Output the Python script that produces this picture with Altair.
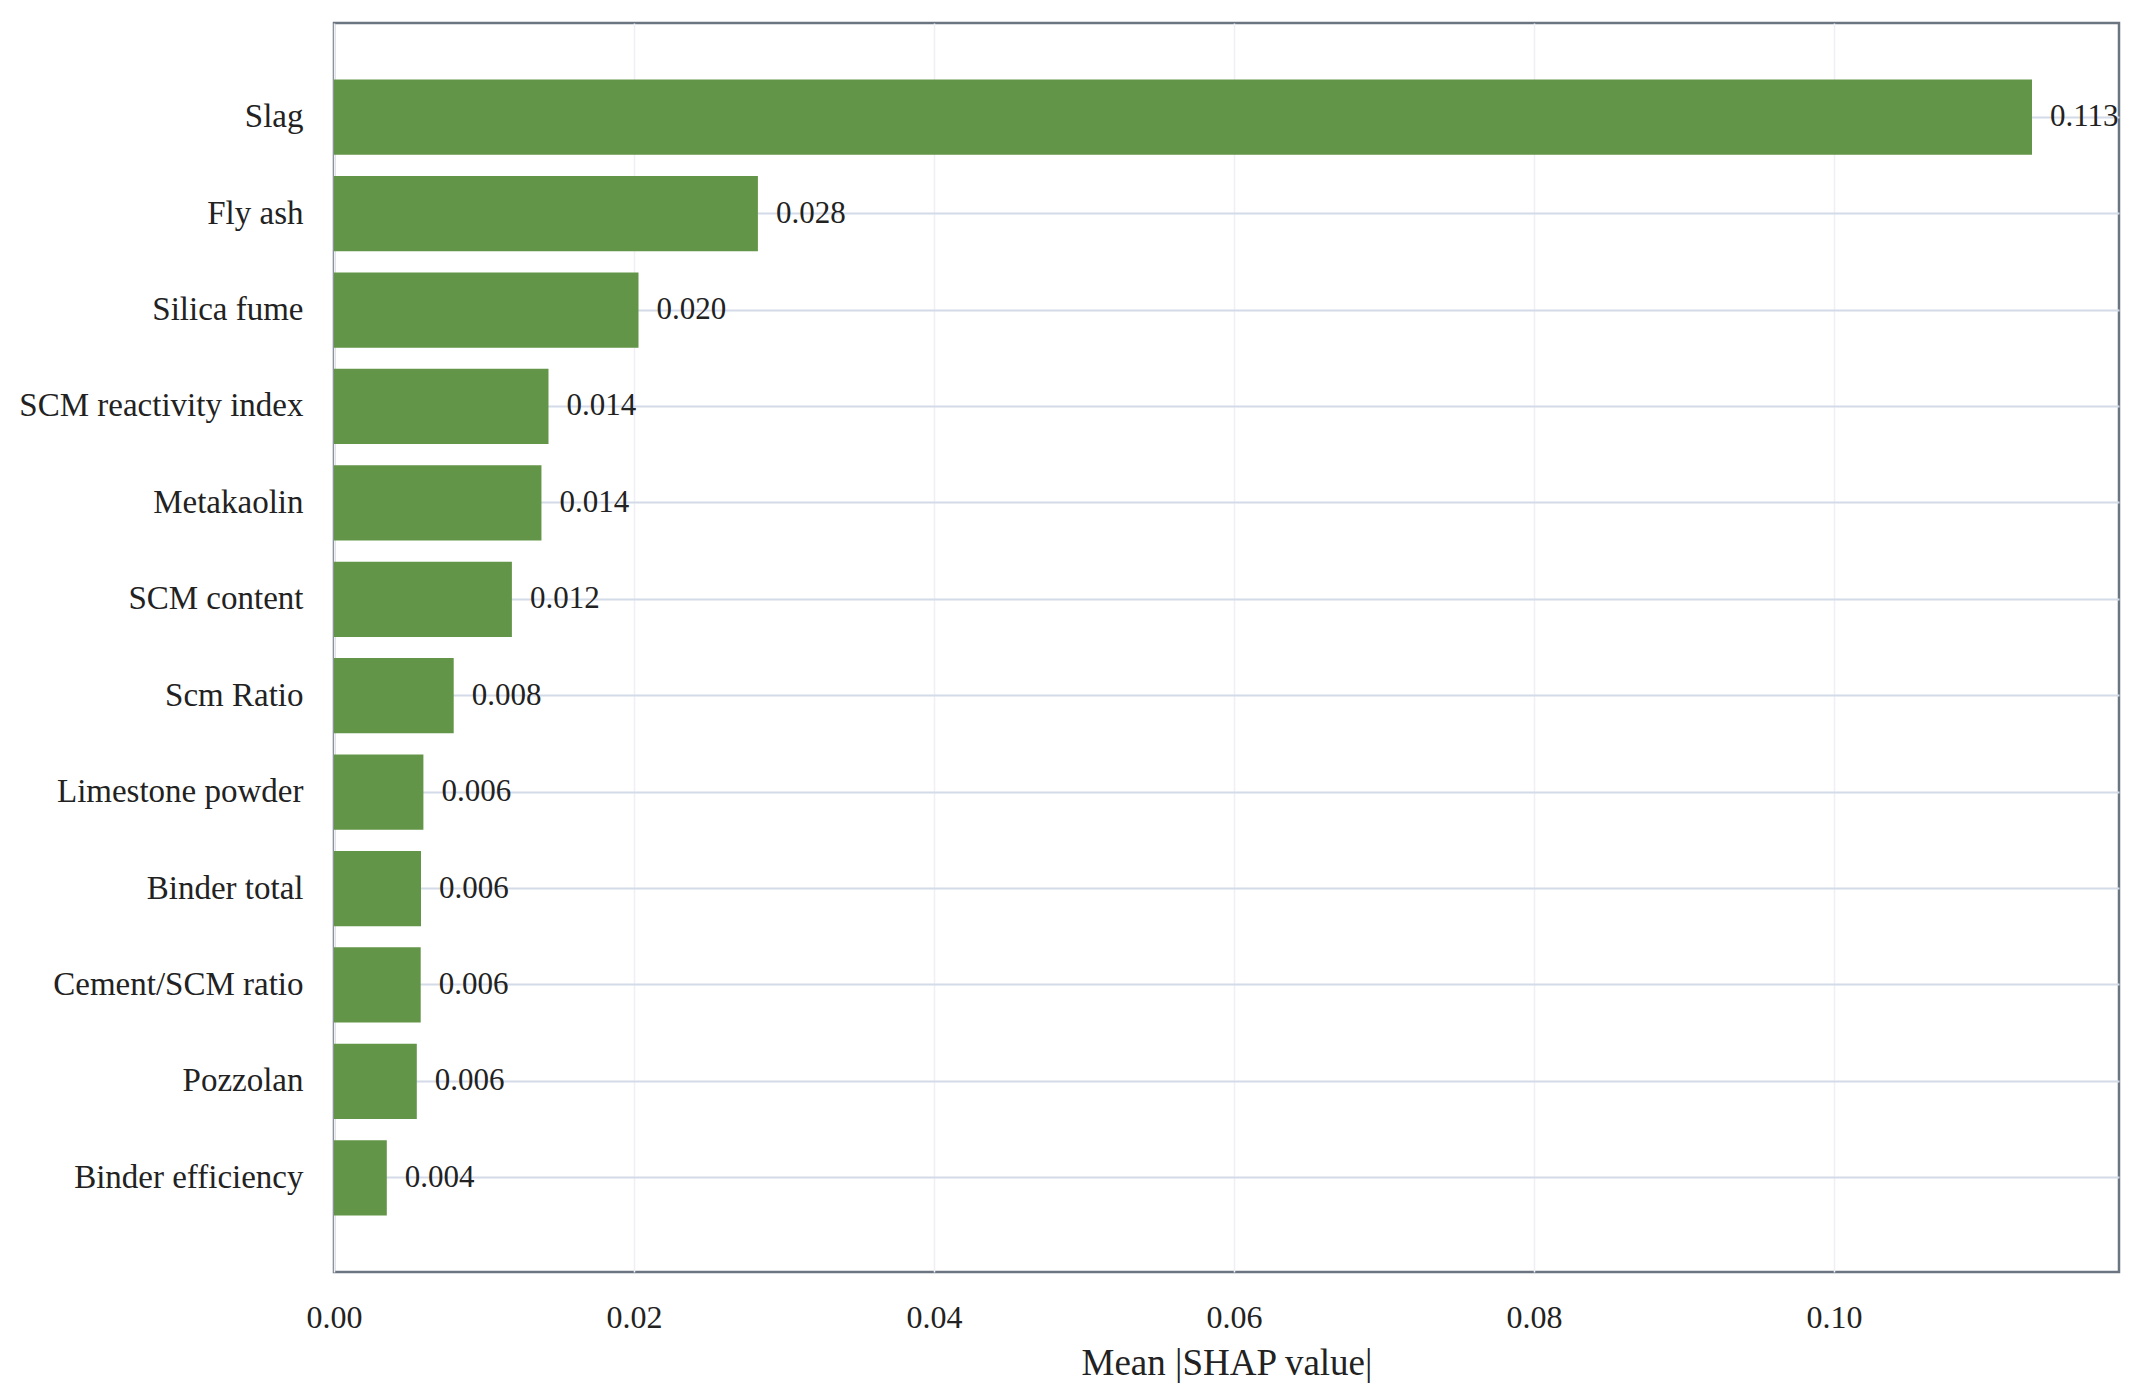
import altair as alt
import pandas as pd

features = [
    "Slag", "Fly ash", "Silica fume", "SCM reactivity index", "Metakaolin",
    "SCM content", "Scm Ratio", "Limestone powder", "Binder total",
    "Cement/SCM ratio", "Pozzolan", "Binder efficiency",
]
mean_abs_shap = [
    0.1132, 0.02826, 0.0203, 0.0143, 0.01383,
    0.01186, 0.00798, 0.00596, 0.0058,
    0.00578, 0.00552, 0.00352,
]
x_ticks = [0.0, 0.02, 0.04, 0.06, 0.08, 0.10]

df = pd.DataFrame({"feature": features, "value": mean_abs_shap})

FONT = "Liberation Serif"

y_enc = alt.Y(
    "feature:N",
    sort=features,
    title=None,
    scale=alt.Scale(paddingInner=0.22, paddingOuter=0.587),
    axis=alt.Axis(
        grid=True, gridColor="#d4dbe8", gridWidth=2,
        domain=False, ticks=False, labelPadding=31,
        labelFont=FONT, labelFontSize=33, labelColor="#222222",
        labelLimit=600,
    ),
)
x_enc = alt.X(
    "value:Q",
    title="Mean |SHAP value|",
    scale=alt.Scale(domain=[0, 0.119], nice=False, zero=True),
    axis=alt.Axis(
        values=x_ticks, format=".2f", labelFlush=False,
        grid=True, gridColor="#eef0f5", gridWidth=1.5,
        domain=False, ticks=False, labelPadding=30,
        labelFont=FONT, labelFontSize=32, labelColor="#222222",
        titleFont=FONT, titleFontSize=37, titleFontWeight="normal",
        titleColor="#222222", titlePadding=12,
    ),
)

bars = alt.Chart(df).mark_bar(color="#629547").encode(y=y_enc, x=x_enc)

labels = alt.Chart(df).mark_text(
    align="left", baseline="middle", dx=18,
    font=FONT, fontSize=31, color="#222222",
).encode(
    y=alt.Y("feature:N", sort=features),
    x=alt.X("value:Q"),
    text=alt.Text("value:Q", format=".3f"),
)

chart = (
    alt.layer(bars, labels)
    .properties(
        width=1785, height=1249,
        autosize=alt.AutoSizeParams(type="none"),
        padding={"left": 326, "top": 15, "right": 14, "bottom": 120},
        background="white",
    )
    .configure_view(stroke="#6b7581", strokeWidth=2.5)
)

chart.save("out.html", embed_options={"renderer": "svg", "actions": False})
